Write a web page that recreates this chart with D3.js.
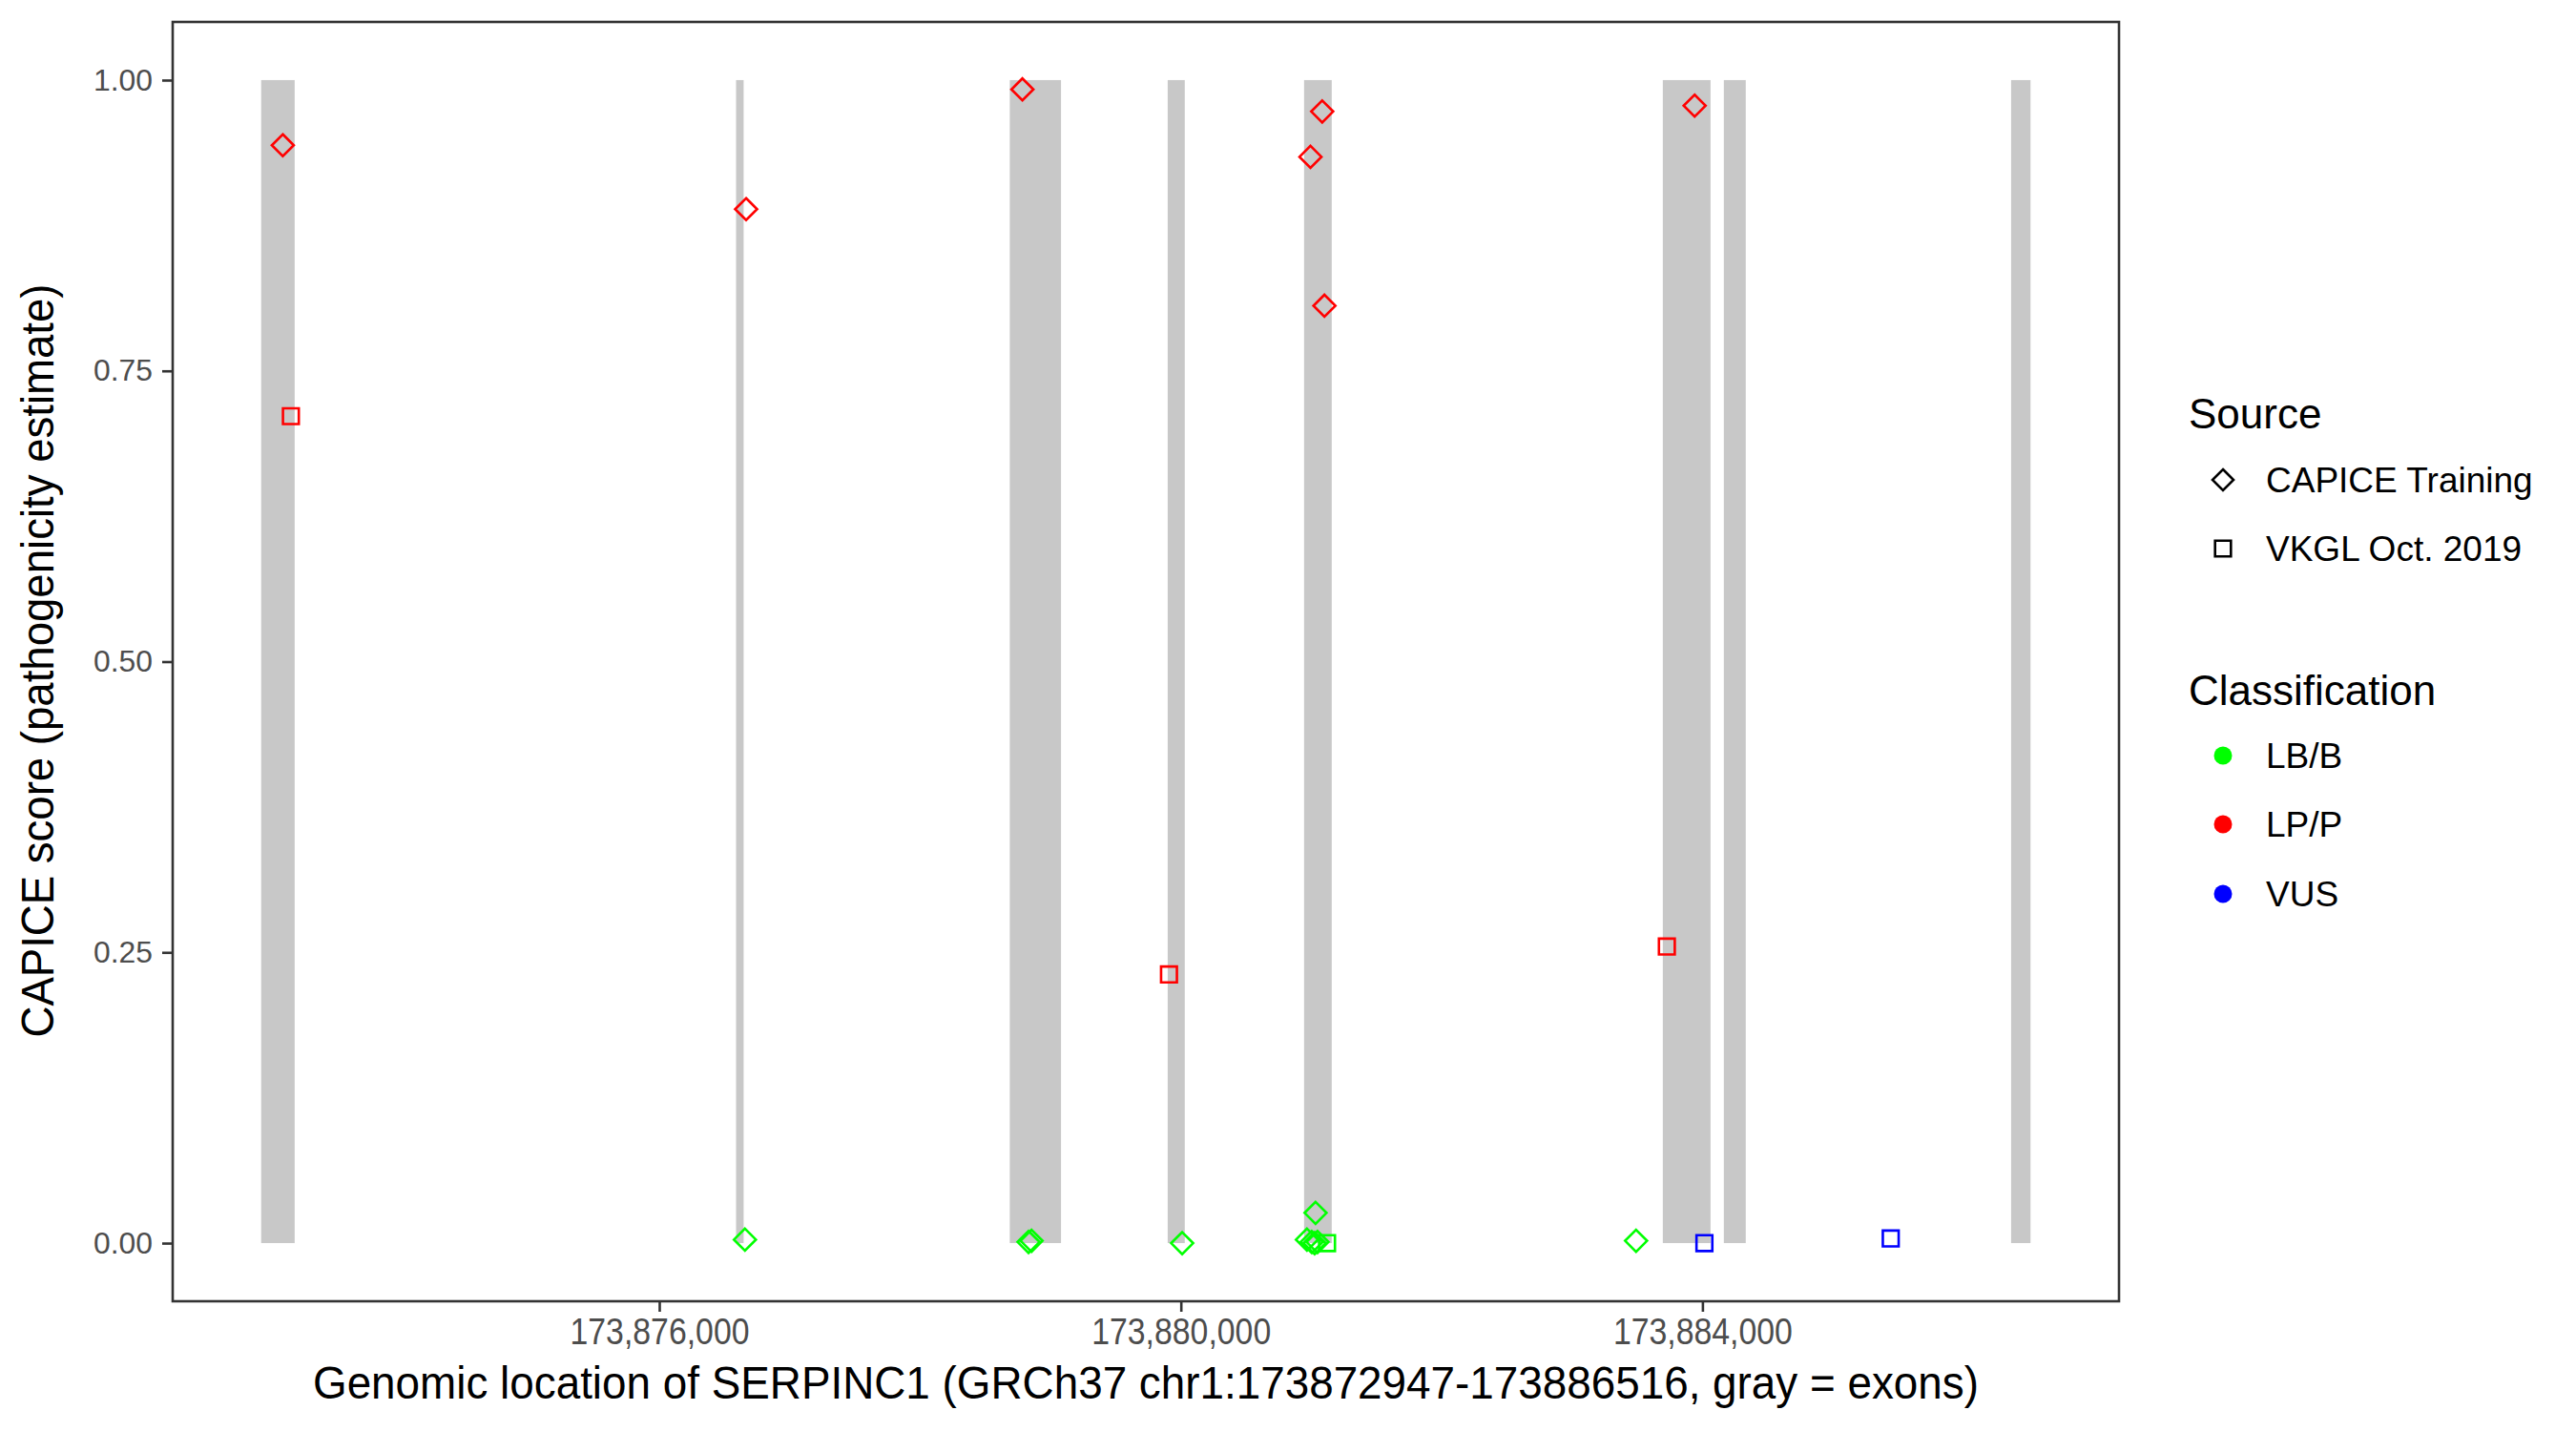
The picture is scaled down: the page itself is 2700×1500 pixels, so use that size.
<!DOCTYPE html>
<html>
<head>
<meta charset="utf-8">
<script src="https://cdn.jsdelivr.net/npm/d3@7"></script>
<style>
  html, body { margin: 0; padding: 0; background: #ffffff; }
  svg { display: block; }
  text { font-family: "Liberation Sans", Arial, Helvetica, sans-serif; }
</style>
</head>
<body>
<script>
// ---------------- data ----------------
const geneStart = 173872947;
const geneEnd = 173886516;

const exonStart = [173872947, 173876589, 173878688, 173879899, 173880945, 173883696, 173884164, 173886367];
const exonEnd   = [173873204, 173876647, 173879081, 173880030, 173881157, 173884062, 173884332, 173886516];

const variantPos = [
  173873113, 173876666, 173878785, 173880994, 173881084, 173881101, 173883940,
  173876657, 173878832, 173878855, 173880010, 173881033, 173880967, 173881004, 173881026, 173881048, 173883491,
  173873175, 173879909, 173883727,
  173881121,
  173884015, 173885444
];
const variantScore = [
  0.944, 0.889, 0.992, 0.934, 0.973, 0.806, 0.978,
  0.003, 0.001, 0.002, 0.000, 0.026, 0.003, 0.001, 0.000, 0.001, 0.002,
  0.711, 0.231, 0.255,
  0.000,
  0.000, 0.004
];
const variantSource = [
  "CAPICE Training", "CAPICE Training", "CAPICE Training", "CAPICE Training", "CAPICE Training", "CAPICE Training", "CAPICE Training",
  "CAPICE Training", "CAPICE Training", "CAPICE Training", "CAPICE Training", "CAPICE Training", "CAPICE Training", "CAPICE Training", "CAPICE Training", "CAPICE Training", "CAPICE Training",
  "VKGL Oct. 2019", "VKGL Oct. 2019", "VKGL Oct. 2019",
  "VKGL Oct. 2019",
  "VKGL Oct. 2019", "VKGL Oct. 2019"
];
const variantClass = [
  "LP/P", "LP/P", "LP/P", "LP/P", "LP/P", "LP/P", "LP/P",
  "LB/B", "LB/B", "LB/B", "LB/B", "LB/B", "LB/B", "LB/B", "LB/B", "LB/B", "LB/B",
  "LP/P", "LP/P", "LP/P",
  "LB/B",
  "VUS", "VUS"
];

const sourceLevels = ["CAPICE Training", "VKGL Oct. 2019"];
const classLevels = ["LB/B", "LP/P", "VUS"];
const classColors = ["#00FF00", "#FF0000", "#0000FF"];

const xTicks = [173876000, 173880000, 173884000];
const yTicks = [0, 0.25, 0.5, 0.75, 1.0];

const xTitle = "Genomic location of SERPINC1 (GRCh37 chr1:173872947-173886516, gray = exons)";
const yTitle = "CAPICE score (pathogenicity estimate)";

// ---------------- layout ----------------
const W = 2700, H = 1500;
const panel = { left: 181, right: 2221, top: 23, bottom: 1364 };

const svg = d3.select("body").append("svg")
  .attr("width", W).attr("height", H)
  .attr("viewBox", `0 0 ${W} ${H}`);

svg.append("rect").attr("width", W).attr("height", H).attr("fill", "#ffffff");

const span = geneEnd - geneStart;
const x = d3.scaleLinear()
  .domain([geneStart - 0.05 * span, geneEnd + 0.05 * span])
  .range([panel.left, panel.right]);
const y = d3.scaleLinear()
  .domain([-0.05, 1.05])
  .range([panel.bottom, panel.top]);

const color = d3.scaleOrdinal().domain(classLevels).range(classColors);

// exons
const exons = exonStart.map((s, i) => ({ start: s, end: exonEnd[i] }));
svg.append("g").selectAll("rect").data(exons).join("rect")
  .attr("x", d => x(d.start))
  .attr("width", d => Math.max(1, x(d.end) - x(d.start)))
  .attr("y", y(1))
  .attr("height", y(0) - y(1))
  .attr("fill", "#C8C8C8");

// points
const variants = variantPos.map((p, i) => ({
  pos: p, score: variantScore[i], source: variantSource[i], cls: variantClass[i]
}));

function shapePath(source, cx, cy) {
  if (source === sourceLevels[0]) {
    const r = 11.5;
    return `M${cx},${cy - r}L${cx + r},${cy}L${cx},${cy + r}L${cx - r},${cy}Z`;
  } else {
    const h = 8.3;
    return `M${cx - h},${cy - h}L${cx + h},${cy - h}L${cx + h},${cy + h}L${cx - h},${cy + h}Z`;
  }
}

svg.append("g").selectAll("path").data(variants).join("path")
  .attr("d", d => shapePath(d.source, x(d.pos), y(d.score)))
  .attr("fill", "none")
  .attr("stroke", d => color(d.cls))
  .attr("stroke-width", 2.6);

// panel border
svg.append("rect")
  .attr("x", panel.left).attr("y", panel.top)
  .attr("width", panel.right - panel.left)
  .attr("height", panel.bottom - panel.top)
  .attr("fill", "none")
  .attr("stroke", "#333333")
  .attr("stroke-width", 2.6);

// axes
const fmt = d3.format(",");
const xAxis = svg.append("g")
  .attr("transform", `translate(0,${panel.bottom})`)
  .call(d3.axisBottom(x).tickValues(xTicks).tickFormat(fmt).tickSize(11).tickPadding(7));
xAxis.select(".domain").remove();
xAxis.selectAll(".tick line").attr("stroke", "#333333").attr("stroke-width", 2.6);
xAxis.selectAll(".tick text")
  .attr("fill", "#4D4D4D")
  .style("font-size", "38px")
  .attr("textLength", 188)
  .attr("lengthAdjust", "spacingAndGlyphs");

const yAxis = svg.append("g")
  .attr("transform", `translate(${panel.left},0)`)
  .call(d3.axisLeft(y).tickValues(yTicks).tickFormat(d3.format(".2f")).tickSize(11).tickPadding(10));
yAxis.select(".domain").remove();
yAxis.selectAll(".tick line").attr("stroke", "#333333").attr("stroke-width", 2.6);
yAxis.selectAll(".tick text")
  .attr("fill", "#4D4D4D")
  .style("font-size", "32px")
  .attr("textLength", 62)
  .attr("lengthAdjust", "spacingAndGlyphs");

// axis titles
svg.append("text")
  .attr("x", (panel.left + panel.right) / 2)
  .attr("y", 1466)
  .attr("text-anchor", "middle")
  .attr("fill", "#000000")
  .style("font-size", "48px")
  .attr("textLength", 1746)
  .attr("lengthAdjust", "spacingAndGlyphs")
  .text(xTitle);

svg.append("text")
  .attr("transform", `translate(56,${(panel.top + panel.bottom) / 2 - 1}) rotate(-90)`)
  .attr("text-anchor", "middle")
  .attr("fill", "#000000")
  .style("font-size", "48px")
  .attr("textLength", 790)
  .attr("lengthAdjust", "spacingAndGlyphs")
  .text(yTitle);

// legends
const legX = 2294, keyX = 2330, labX = 2375;

const lg1 = svg.append("g");
lg1.append("text").attr("x", legX).attr("y", 449)
  .style("font-size", "44px").attr("fill", "#000").text("Source");
const srcY = [503, 575];
lg1.selectAll("path").data(sourceLevels).join("path")
  .attr("d", (d, i) => {
    if (i === 0) { const r = 11; const cx = keyX, cy = srcY[i];
      return `M${cx},${cy - r}L${cx + r},${cy}L${cx},${cy + r}L${cx - r},${cy}Z`; }
    const h = 8.3, cx = keyX, cy = srcY[i];
    return `M${cx - h},${cy - h}L${cx + h},${cy - h}L${cx + h},${cy + h}L${cx - h},${cy + h}Z`;
  })
  .attr("fill", "none").attr("stroke", "#000").attr("stroke-width", 2.6);
lg1.selectAll("text.lab").data(sourceLevels).join("text")
  .attr("class", "lab")
  .attr("x", labX).attr("y", (d, i) => srcY[i])
  .attr("dy", "0.36em")
  .style("font-size", "37px").attr("fill", "#000").text(d => d);

const lg2 = svg.append("g");
lg2.append("text").attr("x", legX).attr("y", 739)
  .style("font-size", "44px").attr("fill", "#000").text("Classification");
const clsY = [792, 864, 937];
lg2.selectAll("circle").data(classLevels).join("circle")
  .attr("cx", keyX).attr("cy", (d, i) => clsY[i]).attr("r", 9.5)
  .attr("fill", d => color(d));
lg2.selectAll("text.lab").data(classLevels).join("text")
  .attr("class", "lab")
  .attr("x", labX).attr("y", (d, i) => clsY[i])
  .attr("dy", "0.36em")
  .style("font-size", "37px").attr("fill", "#000").text(d => d);
</script>
</body>
</html>
